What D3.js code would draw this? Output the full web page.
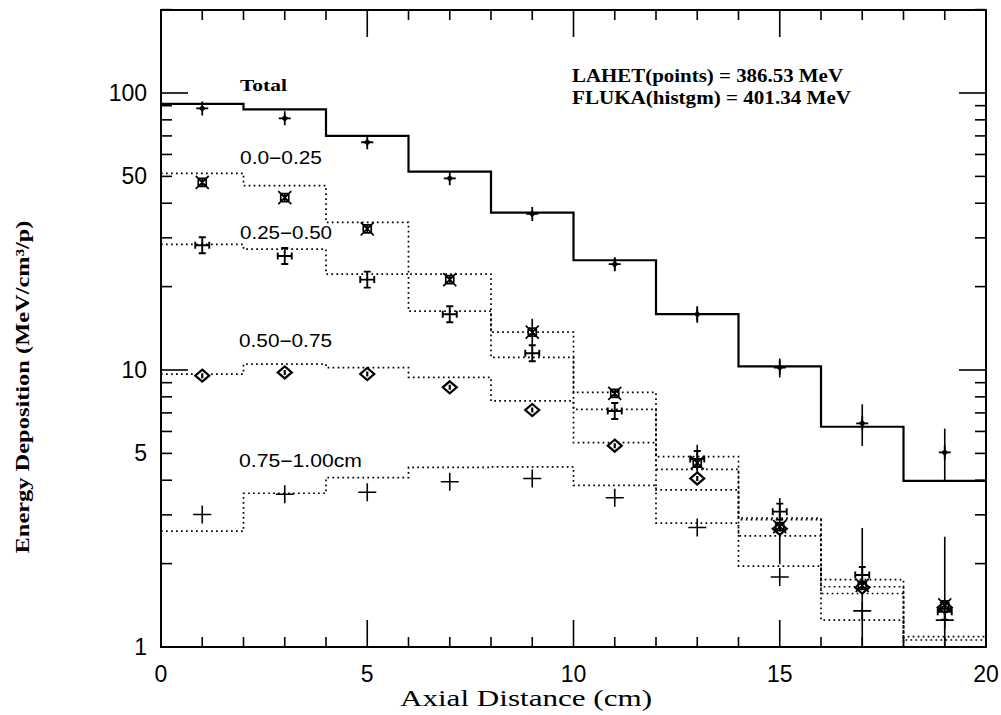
<!DOCTYPE html>
<html><head><meta charset="utf-8">
<script src="https://cdn.jsdelivr.net/npm/d3@7"></script>
<style>body{margin:0;background:#fff}</style>
</head><body>
<svg id="c" width="1001" height="715"></svg>
<script>
// ---------- data ----------
const binEdges = [0,2,4,6,8,10,12,14,16,18,20];
const pointX   = [1,3,5,7,9,11,13,15,17,19];

// FLUKA histograms (per 2 cm bin)
const histTotal = [91.3, 87.3, 70.0, 52.0, 37.0, 24.9, 15.9, 10.3, 6.24, 3.98];
const hist000   = [51.3, 46.3, 34.1, 22.2, 13.7, 8.30, 4.87, 2.92, 1.75, 1.09];
const hist025   = [28.4, 27.3, 22.2, 16.3, 11.1, 7.21, 4.38, 2.88, 1.65, 1.06];
const hist050   = [9.67, 10.5, 10.2, 9.41, 7.73, 5.47, 3.69, 2.52, 1.56, 0.90];
const hist075   = [2.62, 3.59, 4.09, 4.45, 4.47, 3.83, 2.80, 1.96, 1.25, 0.70];

// LAHET points
const ptsTotal = [88.0, 81.0, 66.4, 49.2, 36.6, 24.1, 15.9, 10.2, 6.42, 5.04];
const errTotal = [1.0, 1.0, 1.0, 0.8, 0.8, 1.3, 1.1, 0.8, 1.1, 1.1];
const pts000   = [47.6, 41.9, 32.3, 21.2, 13.7, 8.24, 4.62, 2.72, 1.67, 1.42];
const err000   = [0.3, 0.3, 0.4, 0.4, 1.6, 0.3, 0.75, 0.73, 1.02, 1.08];
const pts025   = [28.2, 25.8, 21.2, 15.9, 11.5, 7.11, 4.77, 3.08, 1.82, 1.34];
const pts050   = [9.54, 9.80, 9.67, 8.66, 7.17, 5.33, 4.06, 2.67, 1.64, 1.39];
const pts075   = [3.01, 3.56, 3.62, 3.95, 4.06, 3.46, 2.70, 1.79, 1.35, 1.25];

const xTicks = [0,5,10,15,20];
const yTickLabels = [1,5,10,50,100];
const seriesLabels = ["Total","0.0\u22120.25","0.25\u22120.50","0.50\u22120.75","0.75\u22121.00cm"];
const annot = ["LAHET(points) = 386.53 MeV","FLUKA(histgm) = 401.34 MeV"];
const xTitle = "Axial Distance (cm)";
const yTitle = "Energy Deposition (MeV/cm\u00B3/p)";

// ---------- layout ----------
const L=161, R=986, T=10, B=647;
const svg = d3.select("#c");
const x = d3.scaleLinear().domain([0,20]).range([L,R]);
const y = d3.scaleLog().domain([1,200]).range([B, B-277*Math.log10(200)]);

svg.append("defs").append("clipPath").attr("id","clip")
  .append("rect").attr("x",L).attr("y",T).attr("width",R-L).attr("height",B-T);

// frame
svg.append("rect").attr("x",L).attr("y",T).attr("width",R-L).attr("height",B-T)
  .attr("fill","none").attr("stroke","#000").attr("stroke-width",2);

// x ticks
const xt = d3.range(0,21,1);
const axG = svg.append("g").attr("stroke","#000").attr("stroke-width",1.6);
xt.forEach(v=>{
  const len = (v%5===0)?27:10;
  axG.append("line").attr("x1",x(v)).attr("x2",x(v)).attr("y1",B).attr("y2",B-len);
  axG.append("line").attr("x1",x(v)).attr("x2",x(v)).attr("y1",T).attr("y2",T+len);
});
// y ticks
const yt=[];
[1,10,100].forEach(d=>{ for(let m=1;m<=9;m++){ const v=d*m; if(v<=200) yt.push(v);} });
yt.forEach(v=>{
  const major = [1,10,100].includes(v);
  const len = major?27:11;
  axG.append("line").attr("x1",L).attr("x2",L+len).attr("y1",y(v)).attr("y2",y(v));
  axG.append("line").attr("x1",R).attr("x2",R-len).attr("y1",y(v)).attr("y2",y(v));
});

// tick labels
const tickFont = "'Liberation Sans', Arial, sans-serif";
svg.append("g").selectAll("text").data(xTicks).join("text")
  .attr("x",d=>x(d)).attr("y",682).attr("text-anchor","middle")
  .attr("font-family",tickFont).attr("font-size",23).text(d=>d);
svg.append("g").selectAll("text").data(yTickLabels).join("text")
  .attr("x",147).attr("y",d=>y(d)+8).attr("text-anchor","end")
  .attr("font-family",tickFont).attr("font-size",23).text(d=>d);

// axis titles
const serif = "'Liberation Serif', 'Times New Roman', serif";
svg.append("text").attr("x",526).attr("y",706).attr("text-anchor","middle")
  .attr("font-family",serif).attr("font-size",23)
  .attr("textLength",252).attr("lengthAdjust","spacingAndGlyphs").text(xTitle);
svg.append("text").attr("transform","translate(29,387) rotate(-90)").attr("text-anchor","middle")
  .attr("font-family",serif).attr("font-weight","bold").attr("font-size",19)
  .attr("textLength",333).attr("lengthAdjust","spacingAndGlyphs").text(yTitle);

// histograms
const plot = svg.append("g").attr("clip-path","url(#clip)");
const stepLine = d3.line().x(d=>x(d[0])).y(d=>y(Math.max(d[1],0.3))).curve(d3.curveStepAfter);
function histPts(vals){ const p = vals.map((v,i)=>[binEdges[i],v]); p.push([binEdges[vals.length], vals[vals.length-1]]); return p; }
[hist000,hist025,hist050,hist075].forEach(h=>{
  plot.append("path").attr("d",stepLine(histPts(h))).attr("fill","none")
    .attr("stroke","#000").attr("stroke-width",1.7).attr("stroke-dasharray","1.7 3.3");
});
plot.append("path").attr("d",stepLine(histPts(histTotal))).attr("fill","none")
  .attr("stroke","#000").attr("stroke-width",2.2);

// error bars
function errBars(vals, errs){
  plot.append("g").selectAll("line").data(vals).join("line")
    .attr("x1",(d,i)=>x(pointX[i])).attr("x2",(d,i)=>x(pointX[i]))
    .attr("y1",(d,i)=>y(Math.max(d-errs[i],0.3))).attr("y2",(d,i)=>y(d+errs[i]))
    .attr("stroke","#000").attr("stroke-width",1.6);
}
errBars(ptsTotal, errTotal);
errBars(pts000, err000);

// markers
const sym = {
  total: "M-6,0H6M0,-7V7",
  xbox:  "M-4,-4H4V4H-4Z M-6.5,-6.5L6.5,6.5 M-6.5,6.5L6.5,-6.5 M0,-4V4",
  cross: "M-7,0H7 M0,-8V8 M-7,-3.5V3.5 M7,-3.5V3.5 M-3.5,-8H3.5 M-3.5,8H3.5",
  diam:  "M0,-6L7,0L0,6L-7,0Z M0,-2.5V2.5",
  plus:  "M-9,0H9 M0,-9V9"
};
function markers(vals, d, sw, fill){
  const g = plot.append("g");
  vals.forEach((v,i)=>{
    g.append("path").attr("transform",`translate(${x(pointX[i])},${y(v)})`)
      .attr("d",d).attr("fill",fill||"none").attr("stroke","#000").attr("stroke-width",sw);
  });
  return g;
}
markers(pts075, sym.plus, 1.6);
markers(pts050, sym.diam, 2.2, "#fff");
markers(pts025, sym.cross, 1.9);
markers(pts000, sym.xbox, 1.7, "none");
markers(ptsTotal, sym.total, 1.8);
markers(ptsTotal, "M0,-3.2L3.2,0L0,3.2L-3.2,0Z", 0.5, "#000");

// series labels
const labFont = "'Liberation Sans', Arial, sans-serif";
svg.append("text").attr("x",240).attr("y",91).attr("font-family",serif)
  .attr("font-weight","bold").attr("font-size",17).attr("textLength",47)
  .attr("lengthAdjust","spacingAndGlyphs").text(seriesLabels[0]);
const labPos = [[240,164,82],[240,239,92],[239,347,93],[239,467,123]];
labPos.forEach((p,i)=>{
  svg.append("text").attr("x",p[0]).attr("y",p[1]).attr("font-family",labFont)
    .attr("font-size",18).attr("textLength",p[2]).attr("lengthAdjust","spacingAndGlyphs")
    .text(seriesLabels[i+1]);
});
// annotation
[[572,82,271],[572,104,279]].forEach((p,i)=>{
  svg.append("text").attr("x",p[0]).attr("y",p[1]).attr("font-family",serif)
    .attr("font-weight","bold").attr("font-size",19).attr("textLength",p[2])
    .attr("lengthAdjust","spacingAndGlyphs").text(annot[i]);
});
</script>
</body></html>
